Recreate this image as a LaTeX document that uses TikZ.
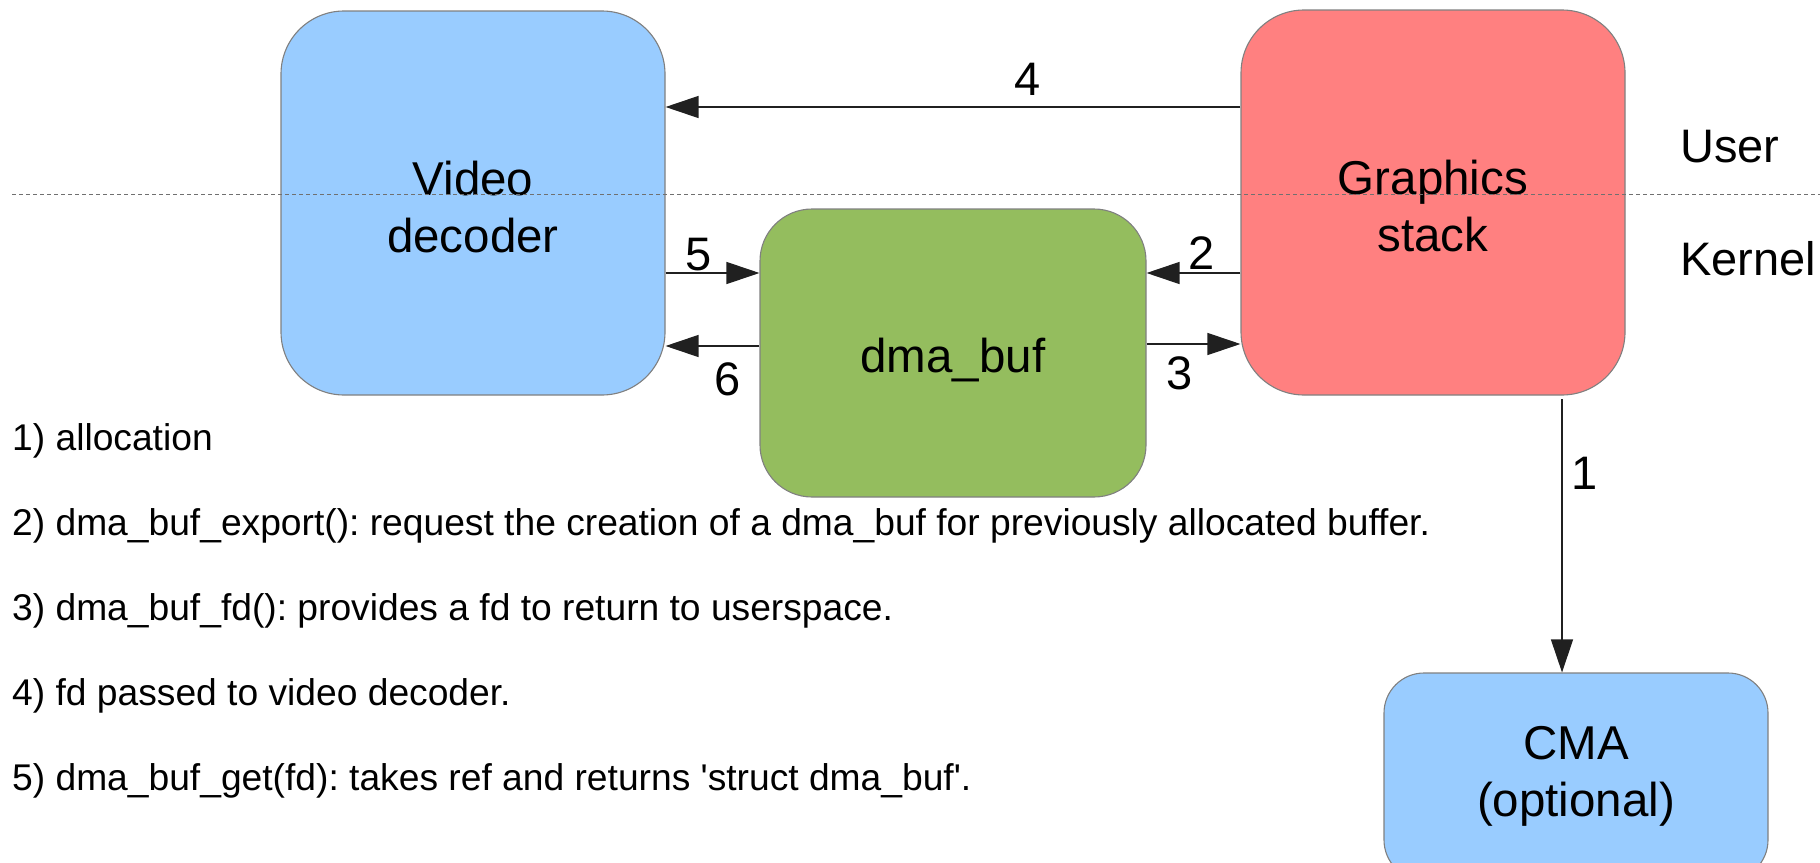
\documentclass[tikz,border=0pt]{standalone}
\usepackage{fontspec}
\setmainfont{Liberation Sans}
\usetikzlibrary{arrows.meta}
\definecolor{vidblue}{HTML}{99CCFF}
\definecolor{gfxred}{HTML}{FF8080}
\definecolor{bufgreen}{HTML}{94BD5E}
\definecolor{edgegray}{HTML}{808080}
\definecolor{sepgray}{HTML}{707070}
\definecolor{arrowink}{HTML}{202020}
\frenchspacing

\begin{document}
\begin{tikzpicture}[x=1pt,y=-1pt,
  box/.style={draw=edgegray, line width=1.1pt, rectangle, rounded corners=#1,
    inner sep=0pt},
  box/.default=63pt,
  boxtext/.style={align=center, inner sep=0pt, text=black,
    font=\fontsize{47.5}{57}\selectfont},
  arr/.style={draw=arrowink, line width=1.2pt,
    -{Triangle[length=33pt,width=22pt]}},
  lbl/.style={anchor=base, inner sep=0pt, font=\fontsize{47}{47}\selectfont},
  side/.style={anchor=base west, inner sep=0pt, font=\fontsize{47}{47}\selectfont},
  item/.style={anchor=base west, inner sep=0pt, font=\fontsize{37.2}{44}\selectfont},
  sep/.style={draw=sepgray, line width=1pt, dash pattern=on 4pt off 3pt}
]
\useasboundingbox (0,0) rectangle (1820,862);
\clip (0,0) rectangle (1820,862);

% main blocks
\node[box, fill=vidblue, minimum width=384pt, minimum height=384pt]
  (video) at (473,203) {};
\node[box, fill=gfxred, minimum width=384pt, minimum height=385pt]
  (gfx) at (1433,202.5) {};
\node[box=52pt, fill=bufgreen, minimum width=386pt, minimum height=288pt]
  (buf) at (953,353) {};
\node[box=40pt, fill=vidblue, minimum width=384pt, minimum height=207pt]
  (cma) at (1576,776.5) {};

% block captions
\node[boxtext] (video-t) at ([yshift=-4pt]video.center) {Video\\decoder};
\node[boxtext] (gfx-t) at ([yshift=-4pt]gfx.center) {Graphics\\stack};
\node[boxtext] (buf-t) at ([yshift=-7pt]buf.center) {dma\_buf};
\node[boxtext] (cma-t) at (cma.center) {CMA\\(optional)};

% user / kernel boundary
\coordinate (sepL) at (12,194);
\coordinate (sepR) at (1820,194);
\draw[sep] (sepL) -- (sepR);
\node[side] (user) at (1680,162) {User};
\node[side] (kernel) at (1680,275) {Kernel};

% connectors
\draw[arr] (gfx.west |- 0,107) -- (video.east |- 0,107);
\draw[arr] (video.east |- 0,273) -- (buf.west |- 0,273);
\draw[arr] (buf.west |- 0,346) -- (video.east |- 0,346);
\draw[arr] (gfx.west |- 0,273) -- (buf.east |- 0,273);
\draw[arr] (buf.east |- 0,344) -- (gfx.west |- 0,344);
\coordinate (alloc) at (1562,399);
\draw[arr] (alloc) -- (alloc |- cma.north);

% step numbers
\node[lbl] (n4) at (1028,95) {4};
\node[lbl] (n5) at (699,270) {5};
\node[lbl] (n6) at (728,395) {6};
\node[lbl] (n2) at (1202,269) {2};
\node[lbl] (n3) at (1180,389) {3};
\node[lbl] (n1) at (1585,489) {1};

% legend
\node[item] (i1) at (12,450) {1) allocation};
\node[item] (i2) at (12,535) {2) dma\_buf\_export(): request the creation of a dma\_buf for previously allocated buffer.};
\node[item] (i3) at (12,620) {3) dma\_buf\_fd(): provides a fd to return to userspace.};
\node[item] (i4) at (12,705) {4) fd passed to video decoder.};
\node[item] (i5) at (12,790) {5) dma\_buf\_get(fd): takes ref and returns \textquotesingle struct dma\_buf\textquotesingle.};
\end{tikzpicture}
\end{document}
